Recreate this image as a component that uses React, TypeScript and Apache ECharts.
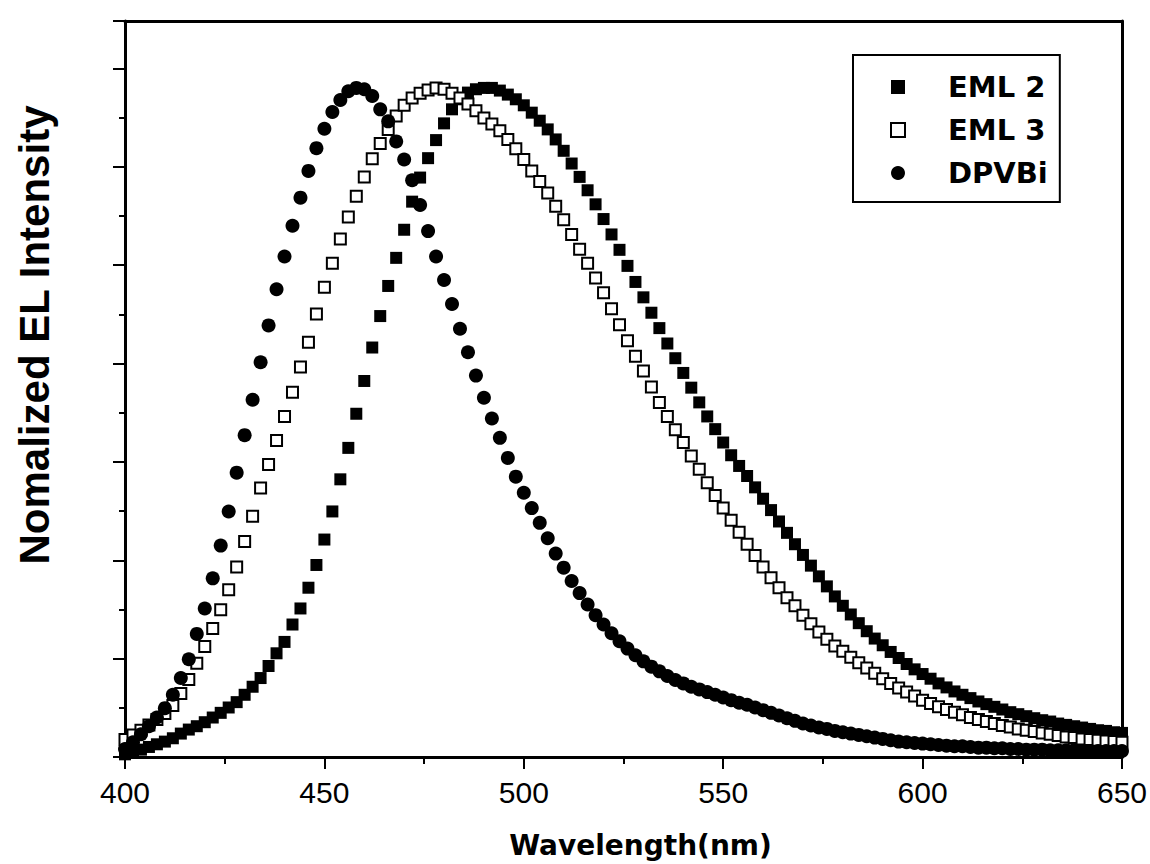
import React, { useEffect, useRef } from "react";
import * as echarts from "echarts";

const wavelengths = [
  400, 402, 404, 406, 408, 410, 412, 414, 416, 418,
  420, 422, 424, 426, 428, 430, 432, 434, 436, 438,
  440, 442, 444, 446, 448, 450, 452, 454, 456, 458,
  460, 462, 464, 466, 468, 470, 472, 474, 476, 478,
  480, 482, 484, 486, 488, 490, 492, 494, 496, 498,
  500, 502, 504, 506, 508, 510, 512, 514, 516, 518,
  520, 522, 524, 526, 528, 530, 532, 534, 536, 538,
  540, 542, 544, 546, 548, 550, 552, 554, 556, 558,
  560, 562, 564, 566, 568, 570, 572, 574, 576, 578,
  580, 582, 584, 586, 588, 590, 592, 594, 596, 598,
  600, 602, 604, 606, 608, 610, 612, 614, 616, 618,
  620, 622, 624, 626, 628, 630, 632, 634, 636, 638,
  640, 642, 644, 646, 648, 650,
];

const eml2 = [
  0.004, 0.007, 0.011, 0.015, 0.019, 0.023, 0.028, 0.035, 0.041, 0.046,
  0.052, 0.059, 0.066, 0.074, 0.082, 0.093, 0.105, 0.118, 0.136, 0.155,
  0.172, 0.198, 0.222, 0.253, 0.287, 0.325, 0.367, 0.415, 0.462, 0.513,
  0.562, 0.612, 0.659, 0.704, 0.746, 0.788, 0.830, 0.866, 0.895, 0.922,
  0.947, 0.968, 0.983, 0.993, 0.998, 1.000, 1.000, 0.996, 0.990, 0.983,
  0.974, 0.963, 0.951, 0.938, 0.923, 0.906, 0.887, 0.867, 0.847, 0.826,
  0.804, 0.781, 0.758, 0.734, 0.710, 0.687, 0.664, 0.641, 0.618, 0.596,
  0.574, 0.552, 0.530, 0.509, 0.490, 0.470, 0.451, 0.435, 0.420, 0.403,
  0.386, 0.369, 0.352, 0.335, 0.318, 0.302, 0.286, 0.270, 0.255, 0.240,
  0.226, 0.213, 0.200, 0.188, 0.177, 0.167, 0.157, 0.148, 0.139, 0.131,
  0.124, 0.117, 0.110, 0.104, 0.098, 0.093, 0.088, 0.083, 0.079, 0.075,
  0.071, 0.067, 0.064, 0.061, 0.058, 0.055, 0.053, 0.050, 0.048, 0.046,
  0.044, 0.042, 0.040, 0.039, 0.037, 0.036,
];

const eml3 = [
  0.026, 0.033, 0.040, 0.048, 0.056, 0.065, 0.077, 0.095, 0.116, 0.140,
  0.165, 0.192, 0.220, 0.250, 0.284, 0.322, 0.360, 0.402, 0.437, 0.473,
  0.509, 0.545, 0.583, 0.620, 0.662, 0.702, 0.738, 0.774, 0.807, 0.838,
  0.867, 0.894, 0.917, 0.938, 0.958, 0.974, 0.985, 0.992, 0.997, 1.000,
  0.998, 0.992, 0.985, 0.976, 0.966, 0.955, 0.946, 0.936, 0.923, 0.909,
  0.893, 0.876, 0.860, 0.843, 0.823, 0.803, 0.781, 0.759, 0.738, 0.716,
  0.694, 0.670, 0.646, 0.622, 0.599, 0.577, 0.553, 0.530, 0.509, 0.489,
  0.470, 0.450, 0.430, 0.410, 0.391, 0.372, 0.354, 0.336, 0.318, 0.301,
  0.284, 0.268, 0.253, 0.238, 0.226, 0.212, 0.199, 0.187, 0.176, 0.166,
  0.158, 0.149, 0.141, 0.133, 0.125, 0.117, 0.110, 0.103, 0.097, 0.091,
  0.085, 0.080, 0.075, 0.071, 0.067, 0.063, 0.059, 0.056, 0.053, 0.050,
  0.047, 0.045, 0.042, 0.040, 0.038, 0.036, 0.034, 0.032, 0.030, 0.029,
  0.027, 0.026, 0.025, 0.024, 0.023, 0.022,
];

const dpvbi = [
  0.012, 0.022, 0.034, 0.046, 0.059, 0.073, 0.093, 0.118, 0.146, 0.184,
  0.222, 0.267, 0.316, 0.367, 0.425, 0.481, 0.534, 0.590, 0.645, 0.699,
  0.748, 0.794, 0.836, 0.876, 0.910, 0.939, 0.964, 0.982, 0.995, 1.000,
  0.998, 0.988, 0.968, 0.950, 0.920, 0.893, 0.862, 0.825, 0.786, 0.748,
  0.713, 0.677, 0.640, 0.605, 0.570, 0.537, 0.506, 0.477, 0.447, 0.419,
  0.395, 0.372, 0.350, 0.327, 0.304, 0.283, 0.263, 0.245, 0.228, 0.212,
  0.198, 0.185, 0.173, 0.162, 0.152, 0.143, 0.135, 0.128, 0.121, 0.115,
  0.110, 0.105, 0.101, 0.097, 0.093, 0.089, 0.085, 0.081, 0.078, 0.074,
  0.070, 0.066, 0.062, 0.058, 0.054, 0.050, 0.047, 0.044, 0.042, 0.039,
  0.037, 0.035, 0.033, 0.031, 0.029, 0.027, 0.025, 0.023, 0.022, 0.021,
  0.020, 0.019, 0.018, 0.017, 0.016, 0.016, 0.015, 0.014, 0.014, 0.013,
  0.013, 0.012, 0.012, 0.011, 0.011, 0.011, 0.010, 0.010, 0.010, 0.010,
  0.009, 0.009, 0.009, 0.009, 0.009, 0.009,
];

const seriesNames = ["EML 2", "EML 3", "DPVBi"];
const xTickValues = [400, 450, 500, 550, 600, 650];

const pairs = (ys: number[]) => wavelengths.map((w, i) => [w, ys[i]]);

export default function App() {
  const ref = useRef<HTMLDivElement>(null);

  useEffect(() => {
    if (!ref.current) return;
    const chart = echarts.init(ref.current, undefined, { renderer: "svg" });
    const black = "#000";
    const frameAxis = {
      axisLine: { show: true, onZero: false, lineStyle: { color: black, width: 3 } },
      axisTick: { show: false },
      axisLabel: { show: false },
      splitLine: { show: false },
    };
    chart.setOption({
      animation: false,
      backgroundColor: "#fff",
      grid: { left: 125, right: 23, top: 21, bottom: 106 },
      legend: {
        orient: "vertical",
        left: 853,
        top: 55,
        itemWidth: 14,
        itemHeight: 14,
        itemGap: 13,
        padding: [17, 12, 14, 37],
        backgroundColor: "#fff",
        borderColor: black,
        borderWidth: 2,
        data: [
          { name: seriesNames[0], icon: "rect" },
          { name: seriesNames[1], icon: "rect" },
          { name: seriesNames[2], icon: "circle" },
        ],
        textStyle: {
          fontFamily: "DejaVu Sans",
          fontWeight: "bold",
          fontSize: 29,
          lineHeight: 30,
          color: black,
          padding: [0, 0, 0, 38],
        },
      },
      xAxis: [
        {
          type: "value",
          min: xTickValues[0],
          max: xTickValues[xTickValues.length - 1],
          interval: 50,
          position: "bottom",
          axisLine: { show: true, onZero: false, lineStyle: { color: black, width: 3 } },
          axisTick: { show: true, inside: false, length: 12, lineStyle: { color: black, width: 2 } },
          minorTick: { show: true, splitNumber: 2, length: 7, lineStyle: { color: black, width: 2 } },
          splitLine: { show: false },
          axisLabel: {
            color: black,
            fontSize: 30,
            fontFamily: "'Liberation Sans Narrow', 'Liberation Sans', Arial, sans-serif",
            margin: 20,
          },
          name: "Wavelength(nm)",
          nameLocation: "middle",
          nameGap: 74,
          nameTextStyle: {
            color: black,
            fontFamily: "DejaVu Sans",
            fontWeight: "bold",
            fontSize: 28,
            padding: [0, 0, 0, 34],
          },
        },
        { type: "value", min: 400, max: 650, position: "top", ...frameAxis },
      ],
      yAxis: [
        {
          type: "value",
          min: 0,
          max: 1.1,
          interval: 0.147,
          position: "left",
          axisLine: { show: true, onZero: false, lineStyle: { color: black, width: 3 } },
          axisTick: { show: true, inside: false, length: 12, lineStyle: { color: black, width: 2 } },
          minorTick: { show: true, splitNumber: 2, length: 6, lineStyle: { color: black, width: 2 } },
          splitLine: { show: false },
          axisLabel: { show: false },
          name: "Nomalized EL Intensity",
          nameLocation: "middle",
          nameGap: 70,
          nameTextStyle: {
            color: black,
            fontFamily: "'Liberation Sans', Arial, sans-serif",
            fontWeight: "bold",
            fontSize: 42,
            padding: [0, 0, 0, 108],
          },
        },
        { type: "value", min: 0, max: 1.1, position: "right", ...frameAxis },
      ],
      series: [
        {
          name: seriesNames[0],
          type: "scatter",
          xAxisIndex: 0,
          yAxisIndex: 0,
          symbol: "rect",
          symbolSize: 12,
          itemStyle: { color: black, opacity: 1 },
          data: pairs(eml2),
        },
        {
          name: seriesNames[1],
          type: "scatter",
          xAxisIndex: 0,
          yAxisIndex: 0,
          symbol: "rect",
          symbolSize: 11,
          itemStyle: { color: "#fff", borderColor: black, borderWidth: 2, opacity: 1 },
          data: pairs(eml3),
        },
        {
          name: seriesNames[2],
          type: "scatter",
          xAxisIndex: 0,
          yAxisIndex: 0,
          symbol: "circle",
          symbolSize: 14,
          itemStyle: { color: black, opacity: 1 },
          data: pairs(dpvbi),
        },
      ],
    });
    return () => chart.dispose();
  }, []);

  return (
    <div
      ref={ref}
      style={{ position: "absolute", left: 0, top: 0, width: 1150, height: 864 }}
    />
  );
}
